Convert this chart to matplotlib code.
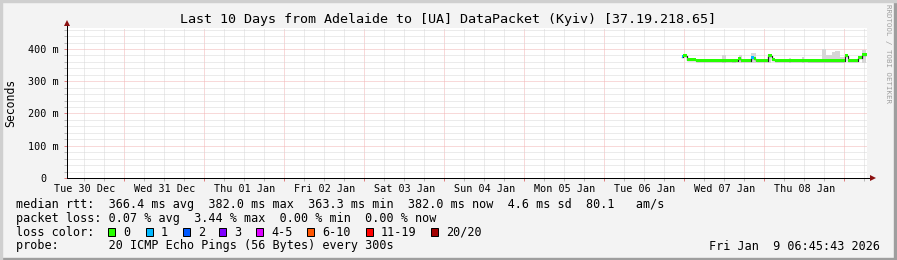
import matplotlib
matplotlib.use("Agg")
import matplotlib.pyplot as plt
from matplotlib.patches import Rectangle
from matplotlib.ticker import FixedLocator, FuncFormatter
import matplotlib.transforms as mtransforms

# ---------------- data ----------------
# time axis: hours since start (Tue 30 Dec 06:45:43), 10 days window
window_hours = 240
first_midnight_h = 17.238          # Wed 31 Dec 00:00 relative to start
day_labels = ["Tue 30 Dec", "Wed 31 Dec", "Thu 01 Jan", "Fri 02 Jan", "Sat 03 Jan",
              "Sun 04 Jan", "Mon 05 Jan", "Tue 06 Jan", "Wed 07 Jan", "Thu 08 Jan"]

# median rtt segments (ms): start hour, end hour, median value, loss class index
seg_start = [184.35, 184.8, 186.0, 188.7, 201.3, 202.2, 205.2, 206.1, 206.7, 210.3,
             211.5, 212.4, 233.4, 234.3, 237.3, 238.5]
seg_end = [184.8, 186.0, 188.7, 201.3, 202.2, 205.2, 206.1, 206.7, 210.3, 211.5,
           212.4, 233.4, 234.3, 237.3, 238.5, 240.0]
seg_median = [376, 379, 367, 363, 369, 363, 373, 370, 363, 379,
              367, 363.5, 379, 364, 373, 382]
seg_loss = [1, 0, 0, 0, 0, 0, 1, 0, 0, 0, 0, 0, 0, 0, 0, 0]

# smoke (ping spread) columns: start hour, end hour, top value (ms)
smoke_start = [196.5, 199.5, 201.6, 205.2, 210.3, 216.6, 220.5, 222.3, 226.5, 227.7,
               229.5, 230.4, 231.9, 238.5]
smoke_end = [197.7, 200.7, 202.5, 206.7, 211.2, 217.2, 221.1, 226.5, 227.7, 229.5,
             230.4, 231.9, 233.1, 239.7]
smoke_top = [380, 370, 381, 386, 382, 372, 376, 370, 399, 380, 390, 393, 375, 397]

loss_labels = ["0", "1", "2", "3", "4-5", "6-10", "11-19", "20/20"]
loss_colors = ["#26ff00", "#00b8ff", "#0059ff", "#7e00ff", "#dd00ff", "#ff5500",
               "#ff0000", "#a10000"]

y_ticks = [0, 100, 200, 300, 400]
y_ticklabels = ["0", "100 m", "200 m", "300 m", "400 m"]
y_max = 465

title = "Last 10 Days from Adelaide to [UA] DataPacket (Kyiv) [37.19.218.65]"
median_stats = ["366.4 ms avg", "382.0 ms max", "363.3 ms min", "382.0 ms now",
                "4.6 ms sd", "80.1   am/s"]
loss_stats = ["0.07 % avg", "3.44 % max", "0.00 % min", "0.00 % now"]
probe_text = "20 ICMP Echo Pings (56 Bytes) every 300s"
date_text = "Fri Jan  9 06:45:43 2026"

# ---------------- figure ----------------
W, H = 897, 260
MONO = "DejaVu Sans Mono"
plt.rcParams["font.family"] = MONO

fig = plt.figure(figsize=(W / 100, H / 100), dpi=100, facecolor="#F3F3F3")

def fx(px):
    return px / W

def fy(py):
    return 1 - py / H

# 3D border
fig.patches.append(Rectangle((0, 0), 1, 2 / H, transform=fig.transFigure,
                             color="#9e9e9e", zorder=0))
fig.patches.append(Rectangle((1 - 3 / W, 0), 3 / W, 1, transform=fig.transFigure,
                             color="#9e9e9e", zorder=0))
fig.patches.append(Rectangle((0, 1 - 2 / H), 1, 2 / H, transform=fig.transFigure,
                             color="#cfcfcf", zorder=0))
fig.patches.append(Rectangle((0, 0), 2 / W, 1, transform=fig.transFigure,
                             color="#cfcfcf", zorder=0))

ax = fig.add_axes([fx(67), 1 - 178 / H, 800 / W, 150 / H])
ax.set_facecolor("white")
ax.set_xlim(0, window_hours)
ax.set_ylim(0, y_max)

# grid positions
midnights = [first_midnight_h + 24 * k for k in range(10) if first_midnight_h + 24 * k < window_hours]
six_hours = []
h = first_midnight_h - 24
while h < window_hours:
    for off in (6, 12, 18):
        v = h + off
        if 0 <= v <= window_hours:
            six_hours.append(v)
    h += 24
noons = [first_midnight_h - 12 + 24 * k for k in range(10)]

ax.xaxis.set_major_locator(FixedLocator(midnights))
ax.xaxis.set_minor_locator(FixedLocator(six_hours))
ax.xaxis.set_major_formatter(FuncFormatter(lambda v, p: ""))

def xfmt(v, pos):
    for n, lab in zip(noons, day_labels):
        if abs(v - n) < 0.01:
            return lab
    return ""

ax.xaxis.set_minor_formatter(FuncFormatter(xfmt))

ax.set_yticks(y_ticks)
ax.set_yticklabels(y_ticklabels)
ax.yaxis.set_minor_locator(FixedLocator([v for v in range(20, y_max, 20) if v % 100]))

grid_minor = "#d8d8d8"
grid_major = "#f2b4b4"
ax.grid(which="minor", color=grid_minor, linewidth=0.72, linestyle=(0, (1, 1)))
ax.grid(which="major", color=grid_major, linewidth=0.72, linestyle=(0, (1, 1)))
ax.set_axisbelow(True)

ax.tick_params(which="both", direction="out", length=2, width=0.72)
ax.tick_params(which="major", color="#e08080")
ax.tick_params(which="minor", color="#b8b8b8")
ax.tick_params(axis="x", which="both", labelsize=7.3, pad=2.5)
ax.tick_params(axis="y", which="both", labelsize=7.3, pad=4.3)

for lbl in ax.get_yticklabels():
    if lbl.get_text() == "0":
        lbl.set_transform(lbl.get_transform() +
                          mtransforms.ScaledTranslation(-12 / 100, 0, fig.dpi_scale_trans))

for s in ("top", "right"):
    ax.spines[s].set_visible(False)
for s in ("left", "bottom"):
    ax.spines[s].set_color("black")
    ax.spines[s].set_linewidth(0.72)
    ax.spines[s].set_zorder(6)

# axis extensions + arrows
ax.plot([0, 0], [1, 1.03], transform=ax.transAxes, color="black", lw=0.72, clip_on=False)
ax.plot([1, 1.005], [0, 0], transform=ax.transAxes, color="black", lw=0.72, clip_on=False)
ax.plot([0], [1.033], marker="^", color="#8b1010", markersize=4, transform=ax.transAxes,
        clip_on=False, markeredgewidth=0)
ax.plot([1.007], [0], marker=">", color="#8b1010", markersize=4, transform=ax.transAxes,
        clip_on=False, markeredgewidth=0)

# smoke
for s0, s1, top in zip(smoke_start, smoke_end, smoke_top):
    ax.fill_between([s0, s1], [355, 355], [top, top], color="#d6d6d6", linewidth=0, zorder=2)

# median line: thin dark step line + coloured band
step_x, step_y = [], []
for s0, s1, m in zip(seg_start, seg_end, seg_median):
    step_x += [s0, s1]
    step_y += [m, m]
ax.plot(step_x, step_y, color="#202020", lw=0.9, zorder=3)
half = 4.6
for s0, s1, m, li in zip(seg_start, seg_end, seg_median, seg_loss):
    ax.fill_between([s0, s1], [m - half, m - half], [m + half, m + half],
                    color=loss_colors[li], linewidth=0, zorder=4)

# texts
fig.text(fx(448), fy(20), title, ha="center", va="center", fontsize=9.6, color="black")
fig.text(fx(11), fy(103), "Seconds", rotation=90, ha="center", va="center", fontsize=8.3)
fig.text(fx(888), fy(54), "RRDTOOL / TOBI OETIKER", rotation=270, ha="center", va="center",
         fontsize=5.3, color="#a0a0a0")

LEG = 8.45
line1 = "median rtt:  " + "  ".join(median_stats)
line2 = "packet loss: " + "  ".join(loss_stats)
fig.text(fx(16), fy(204.3), line1, ha="left", va="center", fontsize=LEG)
fig.text(fx(16), fy(218.3), line2, ha="left", va="center", fontsize=LEG)
fig.text(fx(16), fy(232.3), "loss color:", ha="left", va="center", fontsize=LEG)
fig.text(fx(16), fy(246), "probe:       " + probe_text, ha="left", va="center", fontsize=LEG)
fig.text(fx(880), fy(246), date_text, ha="right", va="center", fontsize=LEG)

box_x = [108, 146, 183, 219, 256, 307, 366, 431]
for bx, lab, col in zip(box_x, loss_labels, loss_colors):
    fig.patches.append(Rectangle((fx(bx), fy(236)), 7 / W, 8 / H, transform=fig.transFigure,
                                 facecolor=col, edgecolor="black", linewidth=0.72))
    fig.text(fx(bx + 15), fy(232.3), lab, ha="left", va="center", fontsize=LEG)

fig.savefig("out.png", dpi=100, facecolor=fig.get_facecolor())
